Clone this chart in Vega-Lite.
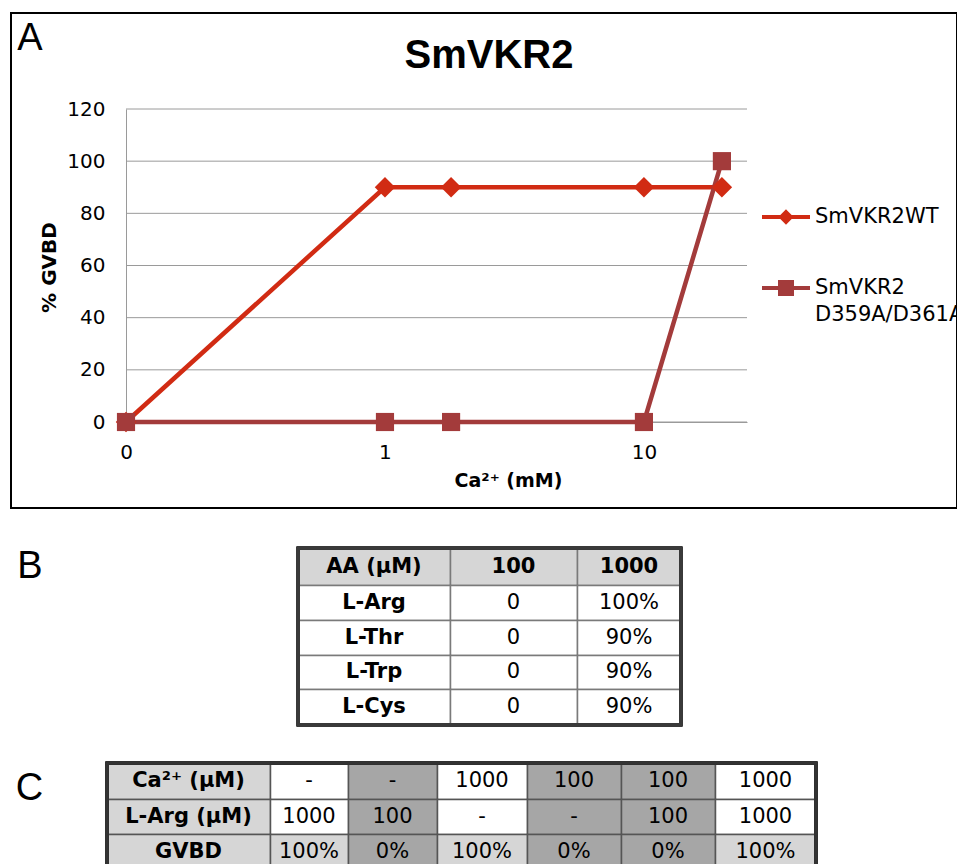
{
  "$schema": "https://vega.github.io/schema/vega-lite/v6.json",
  "width": 946,
  "height": 495,
  "autosize": {"type": "none"},
  "padding": {"left": 11, "top": 13, "right": 0, "bottom": 356},
  "background": "white",
  "config": {"view": {"stroke": "black", "strokeWidth": 2}, "font": "DejaVu Sans"},
  "datasets": {
    "curve": [
      {"series": "SmVKR2WT", "ca": 0.1, "gvbd": 0},
      {"series": "SmVKR2WT", "ca": 1, "gvbd": 90},
      {"series": "SmVKR2WT", "ca": 1.8, "gvbd": 90},
      {"series": "SmVKR2WT", "ca": 10, "gvbd": 90},
      {"series": "SmVKR2WT", "ca": 20, "gvbd": 90},
      {"series": "SmVKR2 D359A/D361A", "ca": 0.1, "gvbd": 0},
      {"series": "SmVKR2 D359A/D361A", "ca": 1, "gvbd": 0},
      {"series": "SmVKR2 D359A/D361A", "ca": 1.8, "gvbd": 0},
      {"series": "SmVKR2 D359A/D361A", "ca": 10, "gvbd": 0},
      {"series": "SmVKR2 D359A/D361A", "ca": 20, "gvbd": 100}
    ],
    "grid": [{"pct": 0}, {"pct": 20}, {"pct": 40}, {"pct": 60}, {"pct": 80}, {"pct": 100}, {"pct": 120}],
    "tableB": [
      {"row": 0, "col": 0, "text": "AA (μM)"},
      {"row": 0, "col": 1, "text": "100"},
      {"row": 0, "col": 2, "text": "1000"},
      {"row": 1, "col": 0, "text": "L-Arg"},
      {"row": 1, "col": 1, "text": "0"},
      {"row": 1, "col": 2, "text": "100%"},
      {"row": 2, "col": 0, "text": "L-Thr"},
      {"row": 2, "col": 1, "text": "0"},
      {"row": 2, "col": 2, "text": "90%"},
      {"row": 3, "col": 0, "text": "L-Trp"},
      {"row": 3, "col": 1, "text": "0"},
      {"row": 3, "col": 2, "text": "90%"},
      {"row": 4, "col": 0, "text": "L-Cys"},
      {"row": 4, "col": 1, "text": "0"},
      {"row": 4, "col": 2, "text": "90%"}
    ],
    "tableC": [
      {"row": 0, "col": 0, "text": "Ca²⁺ (μM)", "gvbd": null},
      {"row": 0, "col": 1, "text": "-", "gvbd": 100},
      {"row": 0, "col": 2, "text": "-", "gvbd": 0},
      {"row": 0, "col": 3, "text": "1000", "gvbd": 100},
      {"row": 0, "col": 4, "text": "100", "gvbd": 0},
      {"row": 0, "col": 5, "text": "100", "gvbd": 0},
      {"row": 0, "col": 6, "text": "1000", "gvbd": 100},
      {"row": 1, "col": 0, "text": "L-Arg (μM)", "gvbd": null},
      {"row": 1, "col": 1, "text": "1000", "gvbd": 100},
      {"row": 1, "col": 2, "text": "100", "gvbd": 0},
      {"row": 1, "col": 3, "text": "-", "gvbd": 100},
      {"row": 1, "col": 4, "text": "-", "gvbd": 0},
      {"row": 1, "col": 5, "text": "100", "gvbd": 0},
      {"row": 1, "col": 6, "text": "1000", "gvbd": 100},
      {"row": 2, "col": 0, "text": "GVBD", "gvbd": null},
      {"row": 2, "col": 1, "text": "100%", "gvbd": 100},
      {"row": 2, "col": 2, "text": "0%", "gvbd": 0},
      {"row": 2, "col": 3, "text": "100%", "gvbd": 100},
      {"row": 2, "col": 4, "text": "0%", "gvbd": 0},
      {"row": 2, "col": 5, "text": "0%", "gvbd": 0},
      {"row": 2, "col": 6, "text": "100%", "gvbd": 100}
    ]
  },
  "layer": [
    {
      "layer": [
        {
          "data": {"name": "grid"},
          "mark": {"type": "rule", "color": "#9a9a9a", "strokeWidth": 1},
          "encoding": {
            "y": {"field": "pct", "type": "quantitative", "scale": {"domain": [0, 120], "range": [409, 96], "nice": false, "zero": false}},
            "x": {"datum": 0.1, "type": "quantitative", "scale": {"type": "log", "domain": [0.1, 25], "range": [115, 736], "nice": false}},
            "x2": {"datum": 25}
          }
        },
        {
          "data": {"name": "curve"},
          "mark": {"type": "line", "strokeWidth": 4.5},
          "encoding": {
            "x": {"field": "ca", "type": "quantitative", "scale": {"type": "log", "domain": [0.1, 25], "range": [115, 736], "nice": false},
              "axis": {"values": [0.1, 1, 10], "labelExpr": "datum.value < 0.5 ? '0' : (datum.value < 5 ? '1' : '10')", "title": "Ca²⁺ (mM)", "offset": -86, "grid": false, "domainColor": "#9a9a9a", "domainWidth": 1, "ticks": false, "tickSize": 0, "labelPadding": 30, "labelBaseline": "middle", "labelFlush": false, "labelOverlap": false, "labelFont": "DejaVu Sans", "labelFontSize": 20, "labelColor": "black", "titleFont": "DejaVu Sans", "titleFontSize": 19, "titleFontWeight": "bold", "titleColor": "black", "titleX": 497, "titleY": 58, "titleBaseline": "middle", "titleAlign": "center"}},
            "y": {"field": "gvbd", "type": "quantitative", "scale": {"domain": [0, 120], "range": [409, 96], "nice": false, "zero": false},
              "axis": {"values": [0, 20, 40, 60, 80, 100, 120], "title": "% GVBD", "offset": -115, "grid": false, "domainColor": "#9a9a9a", "domainWidth": 1, "ticks": false, "tickSize": 0, "labelPadding": 21, "labelBaseline": "middle", "labelFlush": false, "labelOverlap": false, "labelFont": "DejaVu Sans", "labelFontSize": 20, "labelColor": "black", "titleFont": "DejaVu Sans", "titleFontSize": 20, "titleFontWeight": "bold", "titleColor": "black", "titleX": -77, "titleY": 254, "titleAngle": 270, "titleBaseline": "middle", "titleAlign": "center"}},
            "color": {"field": "series", "type": "nominal", "scale": {"domain": ["SmVKR2WT", "SmVKR2 D359A/D361A"], "range": ["#d12b13", "#a33b3b"]},
              "legend": {"orient": "none", "legendX": 749, "legendY": 178, "title": null, "padding": 0, "labelExpr": "split(datum.label, ' ')", "labelFont": "DejaVu Sans", "labelFontSize": 21, "labelColor": "black", "labelOffset": 3, "labelBaseline": "middle", "labelLimit": 400, "symbolSize": 2304, "symbolStrokeWidth": 4, "rowPadding": 32,
                "encode": {
                  "symbols": {"update": {
                    "shape": {"signal": "datum.value === 'SmVKR2WT' ? 'M-1,0L1,0M0,-0.2L0.2,0L0,0.2L-0.2,0Z' : 'M-1,0L1,0M-0.25,-0.25L0.25,-0.25L0.25,0.25L-0.25,0.25Z'"},
                    "fill": {"signal": "datum.value === 'SmVKR2WT' ? '#d12b13' : '#a33b3b'"},
                    "stroke": {"signal": "datum.value === 'SmVKR2WT' ? '#d12b13' : '#a33b3b'"},
                    "strokeWidth": {"value": 4},
                    "opacity": {"value": 1}
                  }},
                  "labels": {"update": {"lineHeight": {"value": 27}}}
                }}}
          }
        },
        {
          "data": {"name": "curve"},
          "mark": {"type": "point", "filled": true, "opacity": 1},
          "encoding": {
            "x": {"field": "ca", "type": "quantitative"},
            "y": {"field": "gvbd", "type": "quantitative"},
            "color": {"field": "series", "type": "nominal"},
            "shape": {"condition": {"test": "datum.series === 'SmVKR2WT'", "value": "diamond"}, "value": "square"},
            "size": {"condition": {"test": "datum.series === 'SmVKR2WT'", "value": 420}, "value": 330}
          }
        },
        {
          "data": {"values": [{"label": "A"}]},
          "mark": {"type": "text", "font": "Liberation Sans", "fontSize": 38, "color": "black", "align": "center", "baseline": "middle"},
          "encoding": {
            "text": {"field": "label"},
            "x": {"datum": 0.0426},
            "y": {"datum": 147}
          }
        },
        {
          "data": {"values": [{"label": "SmVKR2"}]},
          "mark": {"type": "text", "font": "Liberation Sans", "fontSize": 40, "fontWeight": "bold", "color": "black", "align": "center", "baseline": "middle"},
          "encoding": {
            "text": {"field": "label"},
            "x": {"datum": 2.52},
            "y": {"datum": 140.5}
          }
        }
      ]
    },
    {
      "data": {"name": "tableB"},
      "layer": [
        {
          "mark": {"type": "rect", "stroke": "#7a7a7a", "strokeWidth": 1.5},
          "encoding": {
            "x": {"field": "col", "type": "quantitative", "bin": {"step": 1, "extent": [-1, 3]}, "scale": {"domain": [-1, 0, 1, 2, 3], "range": [-249, 287, 439, 566, 670], "nice": false, "zero": false}, "axis": null},
            "y": {"field": "row", "type": "quantitative", "bin": {"step": 1, "extent": [0, 5]}, "scale": {"domain": [0, 1, 2, 3, 4, 5], "range": [535, 572, 607, 642, 676, 712], "nice": false, "zero": false}, "axis": null},
            "fill": {"condition": {"test": "datum.row === 0", "value": "#d6d6d6"}, "value": "white"}
          }
        },
        {
          "transform": [{"filter": "datum.row === 0 || datum.col === 0"}],
          "mark": {"type": "text", "fontSize": 21, "font": "DejaVu Sans", "fontWeight": "bold", "baseline": "middle", "align": "center", "color": "black"},
          "encoding": {
            "x": {"field": "col", "type": "quantitative", "bin": {"step": 1, "extent": [-1, 3]}},
            "y": {"field": "row", "type": "quantitative", "bin": {"step": 1, "extent": [0, 5]}},
            "text": {"field": "text"}
          }
        },
        {
          "transform": [{"filter": "datum.row !== 0 && datum.col !== 0"}],
          "mark": {"type": "text", "fontSize": 21, "font": "DejaVu Sans", "baseline": "middle", "align": "center", "color": "black"},
          "encoding": {
            "x": {"field": "col", "type": "quantitative", "bin": {"step": 1, "extent": [-1, 3]}},
            "y": {"field": "row", "type": "quantitative", "bin": {"step": 1, "extent": [0, 5]}},
            "text": {"field": "text"}
          }
        },
        {
          "mark": {"type": "rect", "fillOpacity": 0, "stroke": "#3a3a3a", "strokeWidth": 2.5},
          "encoding": {"x": {"datum": 0}, "x2": {"datum": 3}, "y": {"datum": 0}, "y2": {"datum": 5}}
        },
        {
          "data": {"values": [{"panel": "B", "row": 0, "col": -1}]},
          "mark": {"type": "text", "font": "Liberation Sans", "fontSize": 38, "color": "black", "align": "center", "baseline": "middle"},
          "encoding": {
            "x": {"field": "col", "type": "quantitative", "bin": {"step": 1, "extent": [-1, 3]}},
            "y": {"field": "row", "type": "quantitative", "bin": {"step": 1, "extent": [0, 5]}},
            "text": {"field": "panel"}
          }
        }
      ]
    },
    {
      "data": {"name": "tableC"},
      "layer": [
        {
          "mark": {"type": "rect", "stroke": "#555555", "strokeWidth": 1.5},
          "encoding": {
            "x": {"field": "col", "type": "quantitative", "bin": {"step": 1, "extent": [-1, 7]}, "scale": {"domain": [-1, 0, 1, 2, 3, 4, 5, 6, 7], "range": [-59, 96, 259, 337, 426, 516, 610, 704, 805], "nice": false, "zero": false}, "axis": null},
            "y": {"field": "row", "type": "quantitative", "bin": {"step": 1, "extent": [0, 3]}, "scale": {"domain": [0, 1, 2, 3], "range": [750, 786, 821, 857], "nice": false, "zero": false}, "axis": null},
            "fill": {"condition": [
              {"test": "datum.col === 0", "value": "#d6d6d6"},
              {"test": "datum.gvbd === 0", "value": "#a6a6a6"},
              {"test": "datum.row === 2", "value": "#d6d6d6"}
            ], "value": "white"}
          }
        },
        {
          "transform": [{"filter": "datum.col === 0"}],
          "mark": {"type": "text", "fontSize": 21, "font": "DejaVu Sans", "fontWeight": "bold", "baseline": "middle", "align": "center", "color": "black"},
          "encoding": {
            "x": {"field": "col", "type": "quantitative", "bin": {"step": 1, "extent": [-1, 7]}},
            "y": {"field": "row", "type": "quantitative", "bin": {"step": 1, "extent": [0, 3]}},
            "text": {"field": "text"}
          }
        },
        {
          "transform": [{"filter": "datum.col !== 0"}],
          "mark": {"type": "text", "fontSize": 21, "font": "DejaVu Sans", "baseline": "middle", "align": "center", "color": "black"},
          "encoding": {
            "x": {"field": "col", "type": "quantitative", "bin": {"step": 1, "extent": [-1, 7]}},
            "y": {"field": "row", "type": "quantitative", "bin": {"step": 1, "extent": [0, 3]}},
            "text": {"field": "text"}
          }
        },
        {
          "mark": {"type": "rect", "fillOpacity": 0, "stroke": "#333333", "strokeWidth": 2.5},
          "encoding": {"x": {"datum": 0}, "x2": {"datum": 7}, "y": {"datum": 0}, "y2": {"datum": 3}}
        },
        {
          "data": {"values": [{"panel": "C", "row": 0, "col": -1}]},
          "mark": {"type": "text", "font": "Liberation Sans", "fontSize": 38, "color": "black", "align": "center", "baseline": "middle", "dy": 8},
          "encoding": {
            "x": {"field": "col", "type": "quantitative", "bin": {"step": 1, "extent": [-1, 7]}},
            "y": {"field": "row", "type": "quantitative", "bin": {"step": 1, "extent": [0, 3]}},
            "text": {"field": "panel"}
          }
        }
      ]
    }
  ],
  "resolve": {"scale": {"x": "independent", "y": "independent"}, "axis": {"x": "independent", "y": "independent"}}
}
